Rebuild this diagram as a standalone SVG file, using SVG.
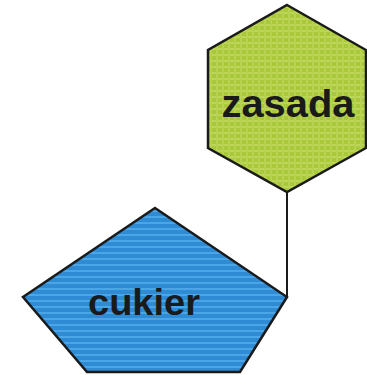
<svg xmlns="http://www.w3.org/2000/svg" width="367" height="375" viewBox="0 0 367 375">
  <defs>
    <pattern id="blueStripes" width="8" height="6" patternUnits="userSpaceOnUse">
      <rect width="8" height="6" fill="#2e8bd4"/>
      <rect y="0" width="8" height="2" fill="#4aa6e6"/>
    </pattern>
    <pattern id="greenGrid" width="6" height="6" patternUnits="userSpaceOnUse">
      <rect width="6" height="6" fill="#a9c83a"/>
      <rect y="0" width="6" height="2" fill="#bdd65a"/>
      <rect x="0" width="2" height="6" fill="#b6d250"/>
    </pattern>
  </defs>
  <style>
    .shape { stroke: #1a1a1a; stroke-width: 2.5; stroke-linejoin: miter; }
    .label { font-family: "Liberation Sans", Arial, sans-serif; font-weight: bold; fill: #1a1a1a; text-anchor: middle; }
    .conn { stroke: #1a1a1a; stroke-width: 2; fill: none; }
  </style>
  <rect width="367" height="375" fill="#ffffff"/>
  <g id="connectors">
    <line class="conn" x1="287" y1="192" x2="287" y2="297"/>
  </g>
  <g id="zasada">
    <polygon class="shape" fill="url(#greenGrid)" points="287,5 366,50 366,148 287,192 208,148 208,50"/>
    <text class="label" x="288" y="117" font-size="39" textLength="133" lengthAdjust="spacingAndGlyphs">zasada</text>
  </g>
  <g id="cukier">
    <polygon class="shape" fill="url(#blueStripes)" points="155,208 287,297 240,372 87,372 23,297"/>
    <text class="label" x="144" y="315" font-size="36" textLength="112" lengthAdjust="spacingAndGlyphs">cukier</text>
  </g>
</svg>
